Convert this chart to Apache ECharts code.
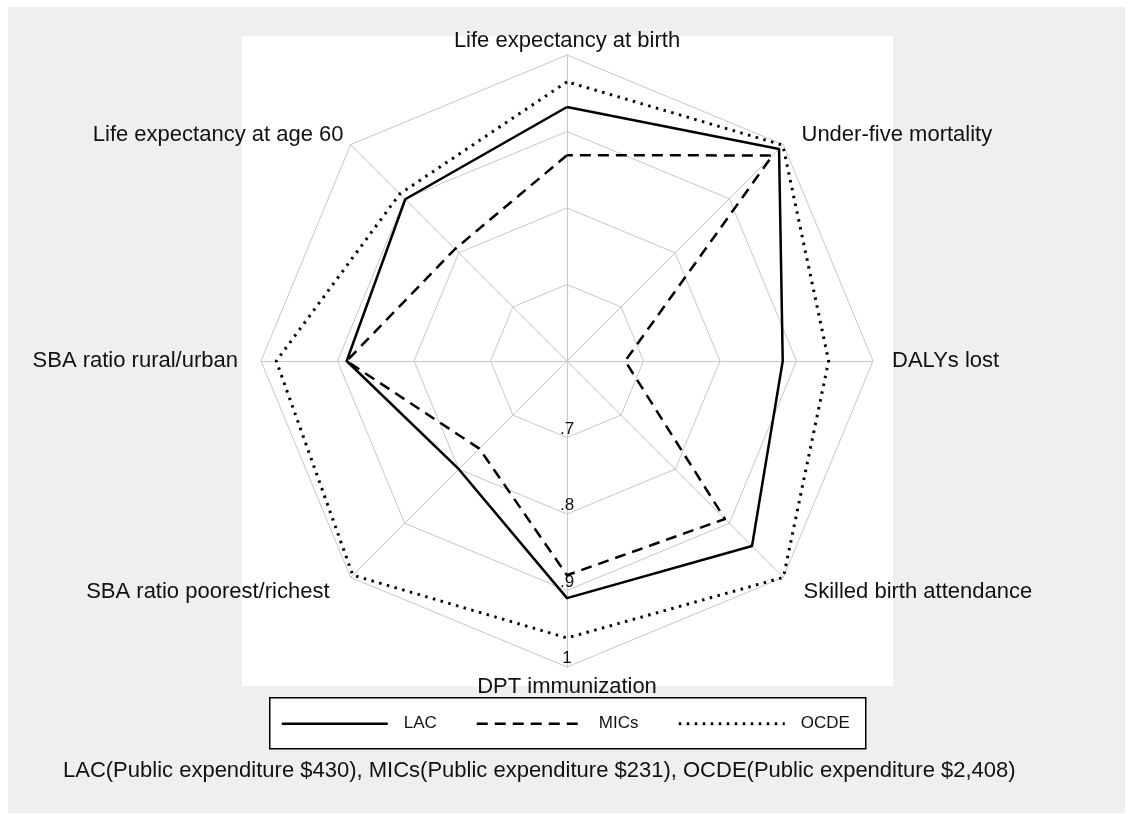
<!DOCTYPE html>
<html>
<head>
<meta charset="utf-8">
<script src="https://cdn.jsdelivr.net/npm/echarts@6/dist/echarts.min.js"></script>
<style>
html,body{margin:0;padding:0;background:#fff;}
#chart{width:1129px;height:814px;}
</style>
</head>
<body>
<div id="chart"></div>
<script>
// Indicators in ECharts order (counter-clockwise from the top)
const categories = [
  'Life expectancy at birth',
  'Life expectancy at age 60',
  'SBA ratio rural/urban',
  'SBA ratio poorest/richest',
  'DPT immunization',
  'Skilled birth attendance',
  'DALYs lost',
  'Under-five mortality'
];
const seriesNames = ['LAC', 'MICs', 'OCDE'];
const lacValues  = [0.932, 0.899, 0.888, 0.800, 0.910, 0.942, 0.882, 0.992];
const micsValues = [0.869, 0.807, 0.888, 0.762, 0.880, 0.892, 0.676, 0.980];
const ocdeValues = [0.965, 0.909, 0.980, 0.996, 0.962, 1.000, 0.942, 0.999];
const expenditures = ['$430', '$231', '$2,408'];
const axisMin = 0.6, axisMax = 1.0;
const tickLabels = ['', '.7', '.8', '.9', '1'];
const labelAxisIndex = 4; // DPT immunization carries the scale labels

const FONT = '"Liberation Sans", Arial, sans-serif';
const chart = echarts.init(document.getElementById('chart'));

const lineStyles = [
  {type: 'solid', width: 2.5},
  {type: [11, 7], width: 2.5},
  {type: [2.5, 5.5], width: 3}
];
const values = [lacValues, micsValues, ocdeValues];

// extra spacing of each axis name from the outer ring (top, right, bottom, left)
const namePads = [
  [0, 0, 0, 0],
  [0, 5, 16, 0],
  [0, 20, 0, 0],
  [25, 19, 0, 0],
  [6, 0, 0, 0],
  [25, 0, 0, 18],
  [0, 0, 0, 16],
  [0, 0, 16, 16]
];
const rich = {};
namePads.forEach((p, i) => {
  rich['n' + i] = {padding: p, fontSize: 22, fontFamily: FONT, color: '#111'};
});

const legendGroup = {
  type: 'group', left: 269, top: 697,
  children: [
    {type: 'rect', shape: {x: 0, y: 0, width: 596, height: 51},
     style: {fill: '#fff', stroke: '#000', lineWidth: 1.5}}
  ]
};
const legendX = [12, 207, 409];
seriesNames.forEach((n, i) => {
  legendGroup.children.push({
    type: 'line', shape: {x1: legendX[i], y1: 26, x2: legendX[i] + 106, y2: 26},
    style: {stroke: '#000', lineWidth: lineStyles[i].width,
            lineDash: lineStyles[i].type === 'solid' ? null : lineStyles[i].type}
  });
  legendGroup.children.push({
    type: 'text', x: legendX[i] + 122, y: 26,
    style: {text: n, fill: '#111', font: '17px ' + FONT, textVerticalAlign: 'middle'}
  });
});

const note = seriesNames.map((n, i) => n + '(Public expenditure ' + expenditures[i] + ')').join(', ');

chart.setOption({
  backgroundColor: '#ffffff',
  animation: false,
  graphic: [
    {type: 'rect', left: 8, top: 7, shape: {width: 1117, height: 806}, style: {fill: '#efefef'}, z: -10},
    {type: 'rect', left: 242, top: 36, shape: {width: 651, height: 650}, style: {fill: '#ffffff'}, z: -9},
    legendGroup,
    {type: 'text', left: 63, top: 760, style: {text: note, fill: '#111', font: '22px ' + FONT}}
  ],
  radar: {
    center: [567, 361],
    radius: 306,
    startAngle: 90,
    splitNumber: 4,
    shape: 'polygon',
    axisName: {
      color: '#111', fontSize: 22, fontFamily: FONT, rich: rich,
      formatter: function (name) {
        const i = categories.indexOf(name);
        return '{n' + i + '|' + name + '}';
      }
    },
    nameGap: 3,
    splitLine: {lineStyle: {color: '#c8c8c8', width: 1}},
    splitArea: {show: false},
    axisLine: {lineStyle: {color: '#c8c8c8', width: 1}},
    axisTick: {show: false},
    axisLabel: {show: false},
    indicator: categories.map((c, i) => {
      const ind = {name: c, min: axisMin, max: axisMax};
      if (i === labelAxisIndex) {
        ind.axisLabel = {
          show: true, color: '#111', fontSize: 17, fontFamily: FONT,
          align: 'center', verticalAlign: 'bottom', margin: 0,
          formatter: function (v) {
            const k = Math.round((v - axisMin) / 0.1);
            return tickLabels[k] || '';
          }
        };
      }
      return ind;
    })
  },
  series: [{
    type: 'radar',
    symbol: 'none',
    data: seriesNames.map((n, i) => ({
      name: n,
      value: values[i],
      lineStyle: {color: '#000', type: lineStyles[i].type, width: lineStyles[i].width},
      areaStyle: null
    }))
  }]
});
</script>
</body>
</html>
